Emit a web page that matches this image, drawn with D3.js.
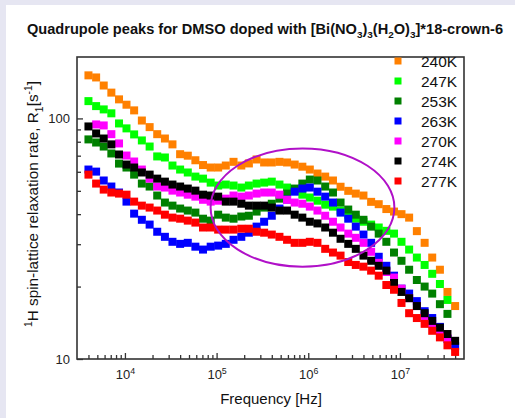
<!DOCTYPE html>
<html>
<head>
<meta charset="utf-8">
<script src="https://cdn.jsdelivr.net/npm/d3@7"></script>
<style>
body { margin: 0; background: #e6e6f2; }
svg { display: block; font-family: Arial, "Liberation Sans", sans-serif; }
</style>
</head>
<body>
<svg></svg>
<script>
// frequencies in Hz, shared by all temperatures
let frequencies = [4000, 4850, 5870, 7110, 8620, 10400, 12600, 15300, 18600, 22500, 27300, 33000,
    40000, 48500, 58700, 71100, 86200, 104000, 126000, 153000, 186000, 225000, 273000, 330000,
    400000, 485000, 587000, 711000, 862000, 1040000, 1260000, 1530000, 1860000, 2250000, 2730000, 3300000,
    4000000, 4850000, 5870000, 7110000, 8620000, 10400000, 12600000, 15300000, 18600000, 22500000, 27300000, 33000000,
    40000000]

let temps = ["240K", "247K", "253K", "263K", "270K", "274K", "277K"]
let colors = ["#ff8000", "#00ff00", "#008000", "#0000ff", "#ff00ff", "#000000", "#ff0000"]

// R1 values [s^-1], null = no point
let r240 = [151,148,137,128,120,114,108,98,92,86,82.5,78,71,70,67,64,62.5,62.5,63.7,66,63.7,65,67.5,65.6,65.6,66,65.6,64.3,63,61.3,59,57.3,55.2,52,50,48.7,47.8,45,44,42,41,40,38.7,34,30.4,26.4,23.5,19,16.6]
let r247 = [118,112.5,109,105,95.3,90.9,85.8,81,76.4,69.5,68.8,63.7,61.3,59.6,57.3,56.2,54.1,52.6,53.1,52.6,51.6,52.6,53.6,54.1,54.6,53.1,51.6,50.1,48.2,46.9,45.5,43.8,43,41.4,39.8,38.3,37.2,36.2,35.2,34.1,33.2,30.7,28.5,26.4,24.6,22.6,20.5,17.6,null]
let r253 = [81.8,79.4,76.4,71.5,64.9,62.5,58.4,53.6,52.1,47.8,44.7,43.4,42.2,41.4,40.6,38.3,37.6,39.8,38.7,38.3,39.1,39.4,41,42.6,44.2,46.4,48.7,51.1,53.6,55.7,55.2,52.1,49.2,44.7,41.8,39.8,37.9,35.5,33.2,30.7,27.7,25.6,23.5,21.3,20,18.7,16.9,15.4,null]
let r263 = [61.3,60.1,55.2,52.1,49.2,45.1,40.2,37.9,36.2,33.8,32.2,30.7,30.1,30.4,29.3,28.5,29.3,29.6,30.1,31.3,32.2,33.5,35.5,37.2,39.4,42.2,46,49.6,51.1,51.6,49.6,47.3,44.7,40.6,38.3,35.5,32.9,30.4,26.6,24.4,22.2,19.6,18.7,17.4,15.8,14.8,13.6,12.1,11.3]
let r270 = [null,94.4,93.5,86,78.7,70.1,66.2,61.3,56.2,52.1,51.6,50.1,49.2,48.2,47.3,45.9,45.1,45.5,46.4,47.8,47.3,47.8,48.7,49.2,49.2,48.2,45.9,44.7,44.2,43,41.4,39.4,37.2,35.2,33.2,31.9,30.4,27.9,25.1,23,21.8,19.6,17.9,16.6,15.1,14,13,12.2,null]
let r274 = [92.6,86.6,82.5,78,70.8,64.3,62.5,59.6,58.4,56.2,54.6,53.1,52.1,51.1,50.1,48.2,47.8,47.3,45.1,45.1,44.2,43.4,43.4,43.4,42.6,41.4,41.4,39.8,38.7,37.2,36.6,35.2,33.5,31.6,30.1,28.7,26.9,25.6,24.4,23.3,20.7,19,17.9,16.6,15.5,14.4,13.5,12.7,11.9]
let r277 = [58.4,53.6,50.6,49.2,48.7,48.2,45.1,43.4,42.6,41.4,39.8,38.7,38.3,37.6,36.9,35.2,35.2,34.5,34.5,34.5,34.8,34.8,33.8,33.5,32.9,32.2,31.3,30.4,30.4,30.7,30.4,28.7,27.7,26.9,25.3,24.6,24.2,23.3,22.2,20.3,19.4,17.1,15.5,14.8,14,13.1,12.3,11.4,10.7]
let seriesValues = [r240, r247, r253, r263, r270, r274, r277]

let xMajor = [1e4, 1e5, 1e6, 1e7]
let xMajorExp = ["4", "5", "6", "7"]
let yMajor = [10, 100]
let yMinor = [20, 30, 40, 50, 60, 70, 80, 90]

// the highlight ellipse, given by its extent in data units
let ellipseFreq = [8.6e4, 8.7e6]
let ellipseRate = [24.2, 75]

let width = 515
let height = 418
let plotLeft = 77, plotRight = 464, plotTop = 57, plotBottom = 359
let markSize = 8

let svg = d3.select("svg")
    .attr("width", width)
    .attr("height", height)

svg.append("rect")
    .attr("x", 6).attr("y", 5)
    .attr("width", width - 6).attr("height", height - 5)
    .attr("fill", "#fff")

let xScale = d3.scaleLog().domain([3000, 5e7]).range([plotLeft, plotRight])
let yScale = d3.scaleLog().domain([10, 180]).range([plotBottom, plotTop])

// writes text with sub/superscripts, parts = [[text, ""|"sub"|"sup"], ...]
let richText = (sel, parts, size) => {
    let cur = 0
    parts.forEach(p => {
        let shift = p[1] == "sub" ? size * 0.3 : p[1] == "sup" ? -size * 0.42 : 0
        sel.append("tspan")
            .attr("dy", shift - cur)
            .style("font-size", (p[1] ? size * 0.68 : size) + "px")
            .text(p[0])
        cur = shift
    })
}

let drawAxes = () => {
    let xMinor = []
    for (let k = 3; k <= 7; k++) {
        for (let m = 2; m <= 9; m++) {
            let v = m * Math.pow(10, k)
            if (v > 3000 && v < 5e7) xMinor.push(v)
        }
    }

    svg.append("g")
        .attr("transform", "translate(0," + plotBottom + ")")
        .call(d3.axisBottom(xScale).tickValues(xMinor).tickSize(-4).tickFormat(""))
        .call(g => g.select(".domain").remove())

    let xAxis = svg.append("g")
        .attr("transform", "translate(0," + plotBottom + ")")
        .call(d3.axisBottom(xScale).tickValues(xMajor).tickSize(-6).tickFormat(""))
        .call(g => g.select(".domain").remove())

    // baseline of the power labels about 20px under the axis
    xAxis.selectAll(".tick text")
        .attr("y", 20)
        .attr("dy", 0)
        .each(function (d, i) {
            richText(d3.select(this), [["10", ""], [xMajorExp[i], "sup"]], 13)
        })

    svg.append("g")
        .attr("transform", "translate(" + plotLeft + ",0)")
        .call(d3.axisLeft(yScale).tickValues(yMinor).tickSize(-4).tickFormat(""))
        .call(g => g.select(".domain").remove())

    svg.append("g")
        .attr("transform", "translate(" + plotLeft + ",0)")
        .call(d3.axisLeft(yScale).tickValues(yMajor).tickSize(-6).tickPadding(7).tickFormat(d3.format("d")))
        .call(g => g.select(".domain").remove())
        .selectAll("text").style("font-size", "13px")

    svg.selectAll(".tick line").attr("stroke", "#333").attr("stroke-width", 1.3)
    svg.selectAll(".tick text").attr("fill", "#222").style("font-family", "Arial, 'Liberation Sans', sans-serif")

    svg.append("rect")
        .attr("x", plotLeft).attr("y", plotTop)
        .attr("width", plotRight - plotLeft).attr("height", plotBottom - plotTop)
        .attr("fill", "none")
        .attr("stroke", "#333")
        .attr("stroke-width", 1.6)
}

let drawPoints = () => {
    seriesValues.forEach((vals, s) => {
        let pts = vals.map((v, i) => [frequencies[i], v]).filter(d => d[1] != null)
        svg.append("g")
            .selectAll("rect")
            .data(pts)
            .enter()
            .append("rect")
            .attr("x", d => xScale(d[0]) - markSize / 2)
            .attr("y", d => yScale(d[1]) - markSize / 2)
            .attr("width", markSize)
            .attr("height", markSize)
            .attr("fill", colors[s])
    })

    let x0 = xScale(ellipseFreq[0]), x1 = xScale(ellipseFreq[1])
    let y0 = yScale(ellipseRate[0]), y1 = yScale(ellipseRate[1])
    svg.append("ellipse")
        .attr("cx", (x0 + x1) / 2)
        .attr("cy", (y0 + y1) / 2)
        .attr("rx", (x1 - x0) / 2)
        .attr("ry", (y0 - y1) / 2)
        .attr("fill", "none")
        .attr("stroke", "#b010c8")
        .attr("stroke-width", 2)
}

let drawLegend = () => {
    let items = svg.append("g")
        .selectAll("g")
        .data(temps)
        .enter()
        .append("g")
        .attr("transform", (d, i) => "translate(398," + (61 + i * 20) + ")")

    items.append("rect")
        .attr("x", -3.5).attr("y", -3.5)
        .attr("width", 7).attr("height", 7)
        .attr("fill", (d, i) => colors[i])

    items.append("text")
        .attr("x", 23)
        .attr("y", 5.5)
        .style("font-size", "15.5px")
        .attr("fill", "#111")
        .text(d => d)
}

let drawLabels = () => {
    let title = svg.append("text")
        .attr("x", 265)
        .attr("y", 34)
        .attr("text-anchor", "middle")
        .style("font-weight", "bold")
        .attr("fill", "#111")
    richText(title, [["Quadrupole peaks for DMSO doped with [Bi(NO", ""], ["3", "sub"], [")", ""], ["3", "sub"],
        ["(H", ""], ["2", "sub"], ["O)", ""], ["3", "sub"], ["]*18-crown-6", ""]], 14.6)

    svg.append("text")
        .attr("x", 271)
        .attr("y", 404)
        .attr("text-anchor", "middle")
        .style("font-size", "15px")
        .attr("fill", "#111")
        .text("Frequency [Hz]")

    let yLabel = svg.append("text")
        .attr("transform", "translate(38,204) rotate(-90)")
        .attr("text-anchor", "middle")
        .attr("fill", "#111")
    richText(yLabel, [["1", "sup"], ["H spin-lattice relaxation rate, R", ""], ["1", "sub"],
        ["[s", ""], ["-1", "sup"], ["]", ""]], 15.3)
}

drawAxes()
drawPoints()
drawLegend()
drawLabels()
</script>
</body>
</html>
